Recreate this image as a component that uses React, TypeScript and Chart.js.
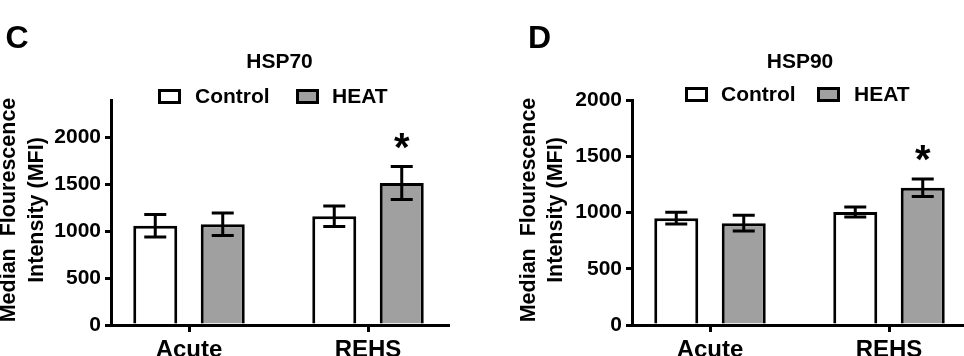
import React, { useEffect, useRef } from 'react';
import { Chart, registerables } from 'chart.js';

Chart.register(...registerables);

// ---------- data ----------
const categories = ['Acute', 'REHS'];
const seriesNames = ['Control', 'HEAT'];

const hsp70Control = [1060, 1160];
const hsp70ControlErr = [120, 110];
const hsp70Heat = [1075, 1515];
const hsp70HeatErr = [120, 175];
const hsp70HeatMarks = ['', '*'];

const hsp90Control = [950, 1005];
const hsp90ControlErr = [53, 44];
const hsp90Heat = [905, 1220];
const hsp90HeatErr = [70, 77];
const hsp90HeatMarks = ['', '*'];

const yTickValues = [0, 500, 1000, 1500, 2000];
const hsp70YMax = 2400;
const hsp90YMax = 2000;

const yTitleLines = ['Median  Flourescence', 'Intensity (MFI)'];

// ---------- styling / layout ----------
const FONT = '"Liberation Sans", Arial, Helvetica, sans-serif';
const seriesFill = ['#ffffff', '#a0a0a0'];
const PX_PER_CAT = 179;
const CANVAS_W = 482;
const CANVAS_H = 356;

type PanelDef = {
  letter: string;
  title: string;
  yMax: number;
  values: number[][];
  errors: number[][];
  marks: string[][];
  canvasLeft: number;
  axisLeft: number;
  padRight: number;
  firstCatOffset: number;
  letterX: number;
  titleX: number;
  legendBoxX: number[];
  legendTextX: number[];
  legendBoxY: number;
  legendBaseline: number;
  yTitleBaselines: number[];
};

const panels: PanelDef[] = [
  {
    letter: 'C',
    title: 'HSP70',
    yMax: hsp70YMax,
    values: [hsp70Control, hsp70Heat],
    errors: [hsp70ControlErr, hsp70HeatErr],
    marks: [['', ''], hsp70HeatMarks],
    canvasLeft: 0,
    axisLeft: 111,
    padRight: 34,
    firstCatOffset: 78,
    letterX: 5.5,
    titleX: 279.5,
    legendBoxX: [158, 296],
    legendTextX: [195, 332],
    legendBoxY: 89,
    legendBaseline: 103,
    yTitleBaselines: [15, 43],
  },
  {
    letter: 'D',
    title: 'HSP90',
    yMax: hsp90YMax,
    values: [hsp90Control, hsp90Heat],
    errors: [hsp90ControlErr, hsp90HeatErr],
    marks: [['', ''], hsp90HeatMarks],
    canvasLeft: 482,
    axisLeft: 150,
    padRight: 0,
    firstCatOffset: 78,
    letterX: 46,
    titleX: 318,
    legendBoxX: [203, 335],
    legendTextX: [239, 372],
    legendBoxY: 87,
    legendBaseline: 101,
    yTitleBaselines: [53, 80],
  },
];

function makeDecor(p: PanelDef) {
  return {
    id: 'decor' + p.letter,
    afterDatasetsDraw(chart: any) {
      const ctx = chart.ctx as CanvasRenderingContext2D;
      const ys = chart.scales.y;
      chart.data.datasets.forEach((ds: any, di: number) => {
        const meta = chart.getDatasetMeta(di);
        meta.data.forEach((bar: any, i: number) => {
          const v = p.values[di][i];
          const e = p.errors[di][i];
          const x = bar.x;
          const yt = ys.getPixelForValue(v + e);
          const yb = ys.getPixelForValue(v - e);
          ctx.save();
          ctx.strokeStyle = '#000';
          ctx.lineWidth = 3;
          ctx.beginPath();
          ctx.moveTo(x, yt);
          ctx.lineTo(x, yb);
          ctx.moveTo(x - 11, yt);
          ctx.lineTo(x + 11, yt);
          ctx.moveTo(x - 11, yb);
          ctx.lineTo(x + 11, yb);
          ctx.stroke();
          const mark = p.marks[di][i];
          if (mark) {
            ctx.font = `bold 40px ${FONT}`;
            ctx.fillStyle = '#000';
            ctx.textAlign = 'center';
            ctx.textBaseline = 'alphabetic';
            const m = ctx.measureText(mark);
            const center = yt - 26;
            const base = center + (m.actualBoundingBoxAscent - m.actualBoundingBoxDescent) / 2;
            ctx.fillText(mark, x, base);
          }
          ctx.restore();
        });
      });
    },
    afterDraw(chart: any) {
      const ctx = chart.ctx as CanvasRenderingContext2D;
      ctx.save();
      ctx.fillStyle = '#000';
      ctx.textBaseline = 'alphabetic';
      // panel letter
      ctx.font = `bold 32px ${FONT}`;
      ctx.textAlign = 'left';
      ctx.fillText(p.letter, p.letterX, 48);
      // title
      ctx.font = `bold 21px ${FONT}`;
      ctx.textAlign = 'center';
      ctx.fillText(p.title, p.titleX, 68);
      // legend
      seriesNames.forEach((name, i) => {
        const bx = p.legendBoxX[i];
        const by = p.legendBoxY;
        ctx.fillStyle = seriesFill[i];
        ctx.fillRect(bx, by, 23, 15);
        ctx.strokeStyle = '#000';
        ctx.lineWidth = 3;
        ctx.strokeRect(bx + 1.5, by + 1.5, 20, 12);
        ctx.fillStyle = '#000';
        ctx.font = `bold 21px ${FONT}`;
        ctx.textAlign = 'left';
        ctx.fillText(name, p.legendTextX[i], p.legendBaseline);
      });
      // y-axis title
      ctx.font = `bold 21.5px ${FONT}`;
      ctx.textAlign = 'center';
      yTitleLines.forEach((line, i) => {
        ctx.save();
        ctx.translate(p.yTitleBaselines[i], 210);
        ctx.rotate(-Math.PI / 2);
        ctx.fillText(line, 0, 0);
        ctx.restore();
      });
      ctx.restore();
    },
  };
}

function Panel({ p }: { p: PanelDef }) {
  const ref = useRef<HTMLCanvasElement>(null);
  useEffect(() => {
    const plotW = CANVAS_W - p.axisLeft - p.padRight;
    const xMin = -p.firstCatOffset / PX_PER_CAT;
    const xMax = xMin + plotW / PX_PER_CAT;
    const chart = new Chart(ref.current as HTMLCanvasElement, {
      type: 'bar',
      data: {
        datasets: seriesNames.map((name, si) => ({
          label: name,
          data: categories.map((_, i) => ({ x: i, y: p.values[si][i] })),
          backgroundColor: seriesFill[si],
          borderColor: '#000',
          borderWidth: 3,
          categoryPercentage: 0.754,
          barPercentage: 0.652,
        })),
      },
      options: {
        responsive: false,
        animation: false,
        devicePixelRatio: 1,
        layout: { padding: { left: 0, right: p.padRight, top: 100, bottom: 0 } },
        plugins: {
          legend: { display: false },
          tooltip: { enabled: false },
          title: { display: false },
        },
        scales: {
          x: {
            type: 'linear',
            min: xMin,
            max: xMax,
            offset: false,
            grid: {
              offset: false,
              drawOnChartArea: false,
              drawTicks: true,
              tickLength: 7,
              color: '#000',
              lineWidth: 3,
            },
            border: { display: true, color: '#000', width: 3, z: 1 },
            ticks: {
              color: '#000',
              font: { family: FONT, size: 24, weight: 'bold' },
              padding: 4,
              maxRotation: 0,
              autoSkip: false,
              callback: (v: any) => categories[v] ?? '',
            },
            afterBuildTicks: (s: any) => {
              s.ticks = categories.map((_, i) => ({ value: i }));
            },
            afterFit: (s: any) => {
              s.height = CANVAS_H - 325;
            },
          },
          y: {
            type: 'linear',
            min: 0,
            max: p.yMax,
            grid: {
              drawOnChartArea: false,
              drawTicks: true,
              tickLength: 6,
              color: '#000',
              lineWidth: 3,
            },
            border: { display: true, color: '#000', width: 3, z: 1 },
            ticks: {
              color: '#000',
              font: { family: FONT, size: 21, weight: 'bold' },
              padding: 4,
              callback: (v: any) => String(v),
            },
            afterBuildTicks: (s: any) => {
              s.ticks = yTickValues.map((v) => ({ value: v }));
            },
            afterFit: (s: any) => {
              s.width = p.axisLeft;
            },
          },
        },
      } as any,
      plugins: [makeDecor(p)],
    });
    return () => chart.destroy();
  }, []);
  return (
    <canvas
      ref={ref}
      width={CANVAS_W}
      height={CANVAS_H}
      style={{ position: 'absolute', left: p.canvasLeft, top: 0, width: CANVAS_W, height: CANVAS_H }}
    />
  );
}

export default function App() {
  return (
    <div style={{ position: 'absolute', left: 0, top: 0, width: 964, height: 356, background: '#fff', overflow: 'hidden' }}>
      {panels.map((p) => (
        <Panel key={p.letter} p={p} />
      ))}
    </div>
  );
}
